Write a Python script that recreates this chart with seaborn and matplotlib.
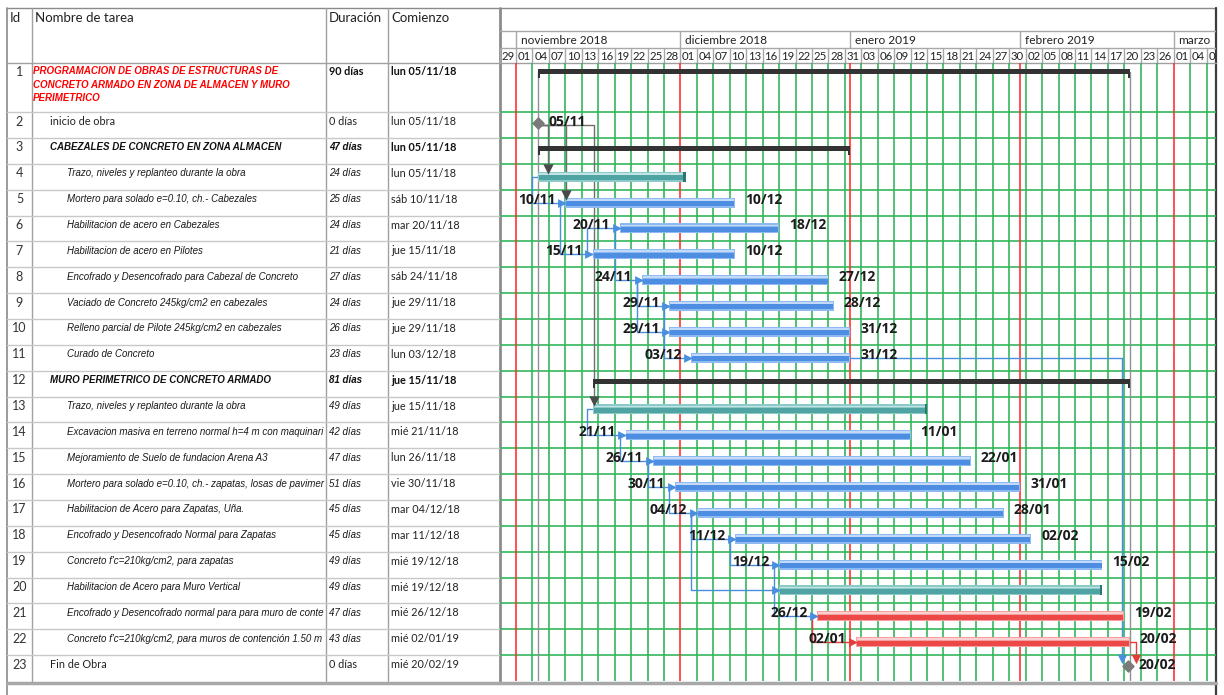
import matplotlib
matplotlib.use("Agg")
import matplotlib.pyplot as plt
import matplotlib.dates as mdates
import pandas as pd
import seaborn as sns

sns.set_theme(style="white")
plt.rcParams['font.family'] = ['Lato', 'DejaVu Sans']
plt.rcParams['patch.force_edgecolor'] = False

# ------------------------------------------------------------------ data
task_ids = list(range(1, 24))
task_names = [
    "PROGRAMACION DE OBRAS DE ESTRUCTURAS DE\nCONCRETO ARMADO EN ZONA DE ALMACEN Y MURO\nPERIMETRICO",
    "inicio de obra",
    "CABEZALES DE CONCRETO EN ZONA ALMACEN",
    "Trazo, niveles y replanteo durante la obra",
    "Mortero para solado e=0.10, ch.- Cabezales",
    "Habilitacion de acero en Cabezales",
    "Habilitacion de acero en Pilotes",
    "Encofrado y Desencofrado para Cabezal de Concreto",
    "Vaciado de Concreto 245kg/cm2 en cabezales",
    "Relleno parcial de Pilote 245kg/cm2 en cabezales",
    "Curado de Concreto",
    "MURO PERIMETRICO DE CONCRETO ARMADO",
    "Trazo, niveles y replanteo durante la obra",
    "Excavacion masiva en terreno normal h=4 m con maquinari",
    "Mejoramiento de Suelo de fundacion Arena A3",
    "Mortero para solado e=0.10, ch.- zapatas, losas de pavimer",
    "Habilitacion de Acero para Zapatas, Uña.",
    "Encofrado y Desencofrado Normal para Zapatas",
    "Concreto f'c=210kg/cm2, para zapatas",
    "Habilitacion de Acero para Muro Vertical",
    "Encofrado y Desencofrado normal para para muro de conte",
    "Concreto f'c=210kg/cm2, para muros de contención 1.50 m",
    "Fin de Obra",
]
durations = ["90 días", "0 días", "47 días", "24 días", "25 días", "24 días", "21 días",
             "27 días", "24 días", "26 días", "23 días", "81 días", "49 días", "42 días",
             "47 días", "51 días", "45 días", "45 días", "49 días", "49 días", "47 días",
             "43 días", "0 días"]
start_text = ["lun 05/11/18", "lun 05/11/18", "lun 05/11/18", "lun 05/11/18", "sáb 10/11/18",
              "mar 20/11/18", "jue 15/11/18", "sáb 24/11/18", "jue 29/11/18", "jue 29/11/18",
              "lun 03/12/18", "jue 15/11/18", "jue 15/11/18", "mié 21/11/18", "lun 26/11/18",
              "vie 30/11/18", "mar 04/12/18", "mar 11/12/18", "mié 19/12/18", "mié 19/12/18",
              "mié 26/12/18", "mié 02/01/19", "mié 20/02/19"]
kinds = ["summary", "milestone", "summary", "teal", "blue", "blue", "blue", "blue", "blue",
         "blue", "blue", "summary", "teal", "blue", "blue", "blue", "blue", "blue", "blue",
         "teal", "red", "red", "milestone"]
start_dates = ["2018-11-05", "2018-11-05", "2018-11-05", "2018-11-05", "2018-11-10",
               "2018-11-20", "2018-11-15", "2018-11-24", "2018-11-29", "2018-11-29",
               "2018-12-03", "2018-11-15", "2018-11-15", "2018-11-21", "2018-11-26",
               "2018-11-30", "2018-12-04", "2018-12-11", "2018-12-19", "2018-12-19",
               "2018-12-26", "2019-01-02", "2019-02-20"]
finish_dates = ["2019-02-20", "2018-11-05", "2018-12-31", "2018-12-01", "2018-12-10",
                "2018-12-18", "2018-12-10", "2018-12-27", "2018-12-28", "2018-12-31",
                "2018-12-31", "2019-02-20", "2019-01-14", "2019-01-11", "2019-01-22",
                "2019-01-31", "2019-01-28", "2019-02-02", "2019-02-15", "2019-02-15",
                "2019-02-19", "2019-02-20", "2019-02-20"]
milestone_times = {2: "2018-11-05 00:00", 23: "2019-02-20 18:00"}
ss_links = [(4, 5), (5, 7), (7, 6), (6, 8), (8, 9), (8, 10), (9, 11), (13, 14), (14, 15),
            (15, 16), (16, 17), (17, 18), (17, 20), (18, 19), (19, 21), (21, 22)]
ms_links = [(2, 4), (2, 5), (2, 13)]
fs_links = [(11, 23), (22, 23)]
month_labels = ["noviembre 2018", "diciembre 2018", "enero 2019", "febrero 2019", "marzo"]
month_starts = ["2018-11-01", "2018-12-01", "2019-01-01", "2019-02-01", "2019-03-01"]
scale_start = "2018-10-29"
header_labels = ["Id", "Nombre de tarea", "Duración", "Comienzo"]

# ------------------------------------------------------------------ layout
W, H = 1224, 695
X_TAB0, X_TAB1 = 7, 500
X_CH0, X_CH1 = 499.6, 1216
Y_TOP, Y_HDR, Y_BOT = 8, 63, 681
PX_PER_DAY = 5.48
ROW1_H = 1.9
N_UNITS = ROW1_H + 22
PXU = (Y_BOT - Y_HDR) / N_UNITS

GREEN = "#34b65c"
RED = "#ff3333"
GRID_GRAY = "#a8a8a8"

fig = plt.figure(figsize=(W / 100, H / 100), dpi=100)
fig.patch.set_facecolor("white")


def add_px_axes(x0, y0, x1, y1, z=1):
    a = fig.add_axes([x0 / W, 1 - y1 / H, (x1 - x0) / W, (y1 - y0) / H], zorder=z)
    a.set_axis_off()
    a.patch.set_alpha(0)
    return a


def u(px):
    return px / PXU


def row_top(r):
    return 0.0 if r == 1 else ROW1_H + (r - 2)


def row_mid(r):
    return ROW1_H / 2 if r == 1 else row_top(r) + 0.5


def num(s):
    return mdates.date2num(pd.Timestamp(s))


t0 = num(scale_start)
span = (X_CH1 - X_CH0) / PX_PER_DAY

# ---------------------------------------------------------- background frame
bg = add_px_axes(0, 0, W, H, z=0)
bg.set_xlim(0, W)
bg.set_ylim(H, 0)
frame = "#8a8a8a"
bg.plot([X_TAB0, X_CH1], [Y_TOP, Y_TOP], color=frame, lw=1)
bg.plot([X_TAB0, X_TAB0], [Y_TOP, H], color=frame, lw=1.2)
bg.plot([X_CH1, X_CH1], [Y_TOP, H], color="#3c3c3c", lw=1.6)
for xc in (32, 326, 388):
    bg.plot([xc, xc], [Y_TOP, Y_BOT], color="#a0a0a0", lw=1)
bg.plot([X_TAB1, X_TAB1], [Y_TOP, Y_BOT], color="#8c8c8c", lw=2)
bg.plot([X_TAB0, X_CH1], [Y_HDR, Y_HDR], color="#a0a0a0", lw=1)
bg.plot([X_TAB0, X_CH1], [Y_BOT + 2, Y_BOT + 2], color="#a8a8a8", lw=2.5)
for xh, lab in zip((10, 35, 329, 391), header_labels):
    bg.text(xh, 18, lab, fontsize=9.5, color="#222222", va="center", ha="left")

# ---------------------------------------------------------- table body
tab = add_px_axes(X_TAB0, Y_HDR, X_TAB1, Y_BOT, z=2)
tab.set_xlim(X_TAB0, X_TAB1)
tab.set_ylim(N_UNITS, 0)
for r in task_ids[1:]:
    tab.plot([X_TAB0, X_TAB1], [row_top(r), row_top(r)], color="#c8c8c8", lw=1)

ARIAL = ["Liberation Sans", "DejaVu Sans"]
SEGOE = ["Lato", "DejaVu Sans"]
for i, r in enumerate(task_ids):
    k = kinds[i]
    yt = row_top(r) + u(9.5) if r != 1 else row_top(r) + u(8.5)
    tab.text(19.5, yt, str(r), ha="center", va="center", fontsize=9, color="#333333",
             family=SEGOE)
    if r == 1:
        tab.text(33, row_top(r) + u(3), task_names[i], ha="left", va="top", fontsize=7,
                 fontweight="bold", fontstyle="italic", color="#ff0000", family=ARIAL,
                 linespacing=1.45)
        tab.text(329, yt, durations[i], fontsize=7.8, fontweight="bold", va="center",
                 family=SEGOE, color="#111111")
        tab.text(391, yt, start_text[i], fontsize=7.8, fontweight="bold", va="center",
                 family=SEGOE, color="#111111")
    elif k == "summary":
        tab.text(50, yt, task_names[i], fontsize=7, fontweight="bold", fontstyle="italic",
                 va="center", family=ARIAL, color="#111111")
        tab.text(329, yt, durations[i], fontsize=7, fontweight="bold", fontstyle="italic",
                 va="center", family=ARIAL, color="#111111")
        tab.text(391, yt, start_text[i], fontsize=7.8, fontweight="bold", va="center",
                 family=SEGOE, color="#111111")
    elif k == "milestone":
        tab.text(50, yt, task_names[i], fontsize=7.8, va="center", family=SEGOE,
                 color="#222222")
        tab.text(329, yt, durations[i], fontsize=7.8, va="center", family=SEGOE,
                 color="#222222")
        tab.text(391, yt, start_text[i], fontsize=7.8, va="center", family=SEGOE,
                 color="#222222")
    else:
        tab.text(67, yt, task_names[i], fontsize=7, fontstyle="italic", va="center",
                 family=ARIAL, color="#1a1a1a")
        tab.text(329, yt, durations[i], fontsize=7, fontstyle="italic", va="center",
                 family=ARIAL, color="#1a1a1a")
        tab.text(391, yt, start_text[i], fontsize=7.8, va="center", family=SEGOE,
                 color="#222222")

# ---------------------------------------------------------- timescale header
hdr = add_px_axes(X_CH0, Y_TOP, X_CH1, Y_HDR, z=2)
hdr.set_xlim(t0, t0 + span)
hdr.set_ylim(Y_HDR, Y_TOP)
hdr.axhline(31, color=GRID_GRAY, lw=1)
hdr.axhline(48, color=GRID_GRAY, lw=1)
cells = [d for d in pd.date_range(scale_start, periods=46, freq="3D") if num(d) < t0 + span]
for d in cells:
    hdr.plot([num(d)] * 2, [48, Y_HDR], color=GRID_GRAY, lw=1)
    txt = d.strftime("%d")
    if num(d) + 3 <= t0 + span:
        hdr.text(num(d) + 1.5, 56.3, txt, ha="center", va="center", fontsize=8.2,
                 color="#222222")
    else:
        # only the first digit of the last, partly visible cell fits
        hdr.text(num(d) + 0.45, 56.3, txt[0], ha="left", va="center", fontsize=8.2,
                 color="#222222")
for m, lab in zip(month_starts, month_labels):
    hdr.plot([num(m)] * 2, [31, 48], color=GRID_GRAY, lw=1)
    hdr.text(num(m) + 0.85, 40, lab, ha="left", va="center", fontsize=8.6, color="#222222")

# ---------------------------------------------------------- gantt body
ax = add_px_axes(X_CH0, Y_HDR, X_CH1, Y_BOT, z=3)
ax.set_xlim(t0, t0 + span)
ax.set_ylim(N_UNITS, 0)
month_nums = [num(m) for m in month_starts]
for d in cells[1:]:
    if num(d) in month_nums:
        continue
    ax.axvline(num(d), color=GREEN, lw=1.2, zorder=1)
for mn in month_nums:
    ax.axvline(mn, color=RED, lw=1.2, zorder=1.2)
for r in task_ids[1:]:
    ax.axhline(row_top(r), color=GREEN, lw=1.2, zorder=1)


def bar_start(r):
    return num(milestone_times[r]) if r in milestone_times else num(start_dates[r - 1])


def bar_end(r):
    return num(milestone_times[r]) if r in milestone_times else num(finish_dates[r - 1]) + 1


# project start / finish lines
ps, pe = bar_start(1), bar_end(1)
for xx in (ps, pe):
    ax.plot([xx, xx], [row_top(1) + u(9), N_UNITS], color="#909090", lw=1, zorder=2)

palette = {"blue": ("#8dbaf0", "#4d8ee2", "#c2daf7"),
           "red": ("#f4a0a0", "#ec4848", "#fbd0d0"),
           "teal": ("#8ccaca", "#4fa3a3", "#c2e4e4")}
LABEL_KW = dict(fontsize=10, fontweight="bold", family=["Open Sans", "DejaVu Sans"],
                color="#1c1c1c", va="center", zorder=8)
BAR_KW = dict(linewidth=0, edgecolor="none")

for i, r in enumerate(task_ids):
    k = kinds[i]
    s, e = bar_start(r), bar_end(r)
    if k == "summary":
        yb = row_top(r) + (u(8.7) if r == 1 else u(10.3))
        ax.barh(yb, e - s, left=s, height=u(5), color="#333333", zorder=5, **BAR_KW)
        for xx in (s, e - 0.4):
            ax.barh(yb + u(2), 0.4, left=xx, height=u(9), color="#333333", zorder=5,
                    **BAR_KW)
    elif k == "milestone":
        ax.scatter([s], [row_mid(r) - u(2)], marker="D", s=32, color="#7a7a7a", zorder=7)
        ax.text(s + 1.9, row_mid(r) - u(3), pd.Timestamp(finish_dates[i]).strftime("%d/%m"),
                ha="left", **LABEL_KW)
    else:
        outer, inner, light = palette[k]
        yc = row_mid(r)
        ax.barh(yc, e - s, left=s, height=u(10), color=outer, zorder=5, **BAR_KW)
        ax.barh(yc + u(0.8), e - s - 0.3, left=s + 0.15, height=u(5), color=inner,
                zorder=5, **BAR_KW)
        ax.barh(yc - u(3.0), e - s - 0.3, left=s + 0.15, height=u(1.8), color=light,
                zorder=5, **BAR_KW)
        if k == "teal":
            ax.barh(yc, 0.45, left=e - 0.45, height=u(10), color="#2e7676", zorder=6,
                    **BAR_KW)
        else:
            ax.text(s - 1.8, yc - u(3), pd.Timestamp(start_dates[i]).strftime("%d/%m"),
                    ha="right", **LABEL_KW)
            ax.text(e + 1.8, yc - u(3), pd.Timestamp(finish_dates[i]).strftime("%d/%m"),
                    ha="left", **LABEL_KW)

BLUE_L, RED_L, GRAY_L = "#4a8ee0", "#e53b3b", "#6e6e6e"

for p, q in ss_links:
    col = RED_L if (kinds[p - 1] == "red" and kinds[q - 1] == "red") else BLUE_L
    xs = bar_start(p)
    ex = xs - 1.0
    y0, y1 = row_mid(p), row_mid(q)
    xt = bar_start(q)
    ax.plot([xs, ex, ex, xt - 0.6], [y0, y0, y1, y1], color=col, lw=1, zorder=4)
    ax.scatter([xt - 0.6], [y1], marker=">", s=40, color=col, zorder=6, linewidths=0)

for p, q in ms_links:
    mx = bar_start(p)
    ex = max(mx + 1.8, bar_start(q) + 0.2)
    y0 = row_mid(p)
    y1 = row_mid(q) - u(8)
    ax.plot([mx, ex, ex], [y0, y0, y1], color=GRAY_L, lw=1, zorder=4)
    ax.scatter([ex], [y1], marker="v", s=55, color="#4a4a4a", zorder=6, linewidths=0)

for p, q in fs_links:
    col = RED_L if kinds[p - 1] == "red" else BLUE_L
    pend = bar_end(p)
    mx = bar_start(q)
    ex = mx - 1.1 if pend < mx - 0.5 else pend + 1.1
    y0 = row_mid(p)
    y1 = row_top(q) + u(4)
    ax.plot([pend, ex, ex], [y0, y0, y1], color=col, lw=1, zorder=4)
    ax.scatter([ex], [y1], marker="v", s=45, color=col, zorder=6, linewidths=0)

fig.savefig("out.png", dpi=100, facecolor="white")
